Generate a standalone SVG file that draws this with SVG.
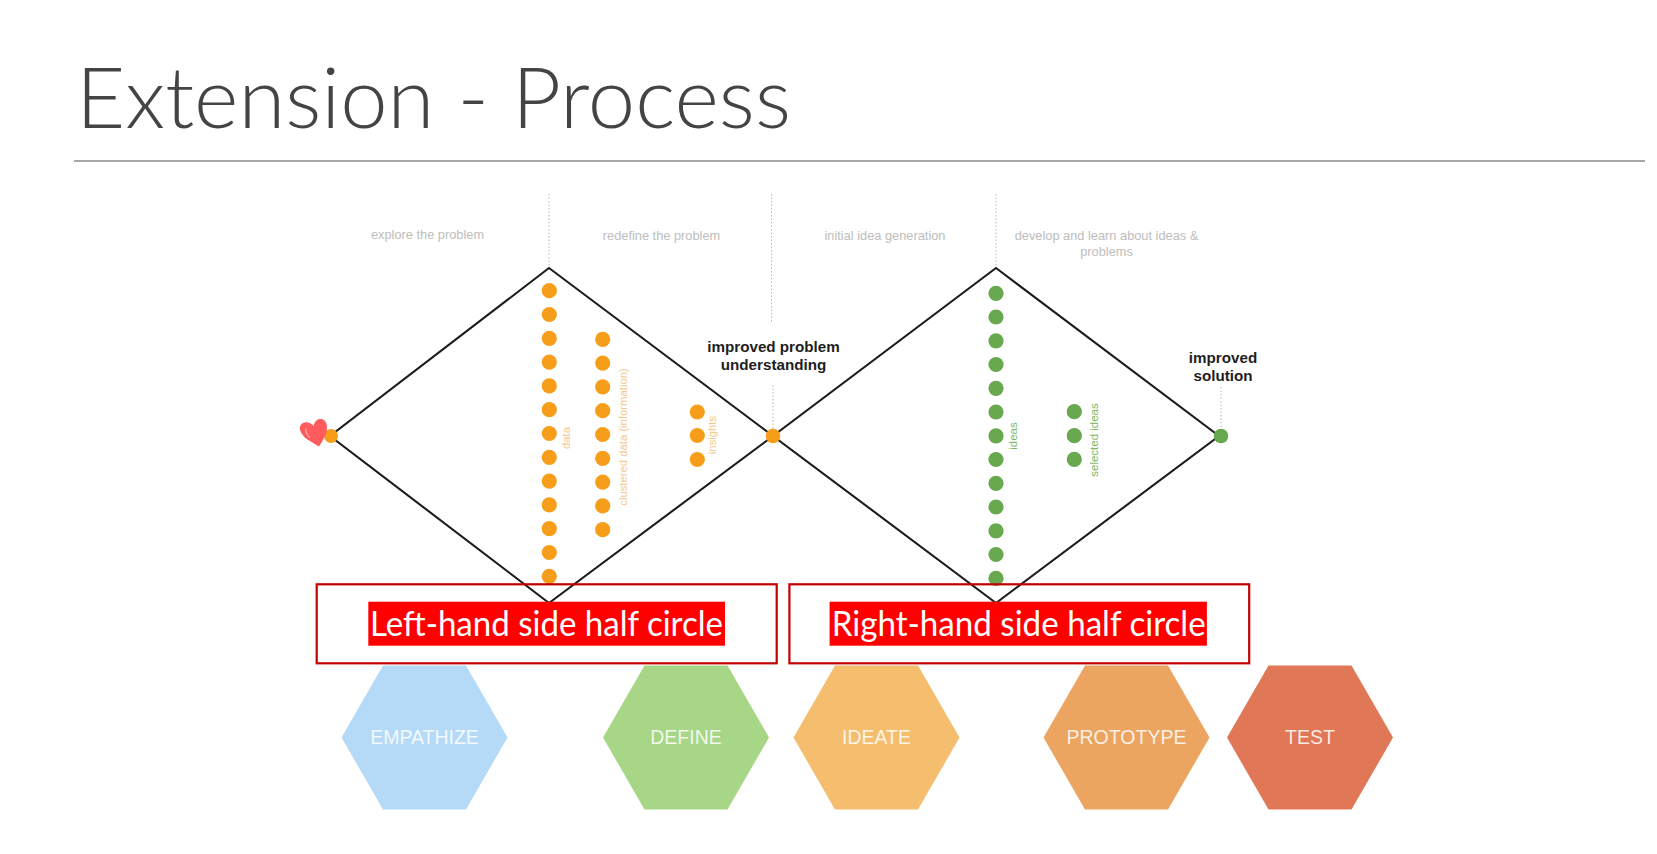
<svg xmlns="http://www.w3.org/2000/svg" width="1657" height="854" viewBox="0 0 1657 854">
  <style>
    .title { font-family: Lato, "Open Sans", sans-serif; font-weight: 300; font-size: 84px; fill: #444444; }
    .phase { font-family: "Liberation Sans", Arial, sans-serif; font-size: 12.8px; fill: #bdbdbd; text-anchor: middle; }
    .milestone { font-family: "Liberation Sans", Arial, sans-serif; font-weight: bold; font-size: 15.2px; fill: #1e1e1e; text-anchor: middle; }
    .guide { stroke: #b8b8b8; stroke-width: 1; stroke-dasharray: 1.5 2; fill: none; }
    .diamond { fill: none; stroke: #1c1c1c; stroke-width: 2.1; stroke-linejoin: miter; }
    .dot-o { fill: #f69e1a; }
    .dot-g { fill: #68a84e; }
    .vlabel-o { font-family: "Liberation Sans", Arial, sans-serif; font-size: 11.3px; fill: #f5c88c; text-anchor: middle; }
    .vlabel-g { font-family: "Liberation Sans", Arial, sans-serif; font-size: 11.5px; fill: #7cb866; text-anchor: middle; }
    .frame { fill: none; stroke: #c40000; stroke-width: 2.2; }
    .tag-bg { fill: #ff0000; }
    .tag { font-family: Lato, "Open Sans", sans-serif; font-size: 34px; fill: #ffffff; }
    .hex-text { font-family: "Liberation Sans", Arial, sans-serif; font-size: 19.5px; fill: #ffffff; fill-opacity: 0.85; text-anchor: middle; }
  </style>
  <defs>
    <polygon id="hex" points="-83,0 -41.5,-72 41.5,-72 83,0 41.5,72 -41.5,72"/>
  </defs>

  <rect width="1657" height="854" fill="#ffffff"/>

  <!-- heading -->
  <g id="heading">
    <text class="title" x="76" y="128" textLength="715" lengthAdjust="spacingAndGlyphs">Extension - Process</text>
    <line x1="74" y1="161" x2="1645" y2="161" stroke="#8a8a8a" stroke-width="1.5"/>
  </g>

  <!-- phase captions -->
  <g id="phase-captions">
    <text class="phase" x="427.5" y="239">explore the problem</text>
    <text class="phase" x="661.5" y="240">redefine the problem</text>
    <text class="phase" x="885" y="240">initial idea generation</text>
    <text class="phase" x="1106.5" y="240">develop and learn about ideas &amp;</text>
    <text class="phase" x="1106.5" y="256">problems</text>
  </g>

  <!-- dotted guides -->
  <g id="connectors">
    <line class="guide" x1="549" y1="194" x2="549" y2="266"/>
    <line class="guide" x1="771.5" y1="194" x2="771.5" y2="323"/>
    <line class="guide" x1="773" y1="385" x2="773" y2="430"/>
    <line class="guide" x1="996" y1="194" x2="996" y2="266"/>
    <line class="guide" x1="1221" y1="387" x2="1221" y2="430"/>
  </g>

  <!-- first diamond: problem space -->
  <g id="diamond-problem">
    <polygon class="diamond" points="549,268 773,436 549,603 330,436"/>
    <g class="dot-o">
      <circle cx="549.3" cy="290.7" r="7.6"/>
      <circle cx="549.3" cy="314.5" r="7.6"/>
      <circle cx="549.3" cy="338.3" r="7.6"/>
      <circle cx="549.3" cy="362.1" r="7.6"/>
      <circle cx="549.3" cy="385.9" r="7.6"/>
      <circle cx="549.3" cy="409.7" r="7.6"/>
      <circle cx="549.3" cy="433.5" r="7.6"/>
      <circle cx="549.3" cy="457.3" r="7.6"/>
      <circle cx="549.3" cy="481.1" r="7.6"/>
      <circle cx="549.3" cy="504.9" r="7.6"/>
      <circle cx="549.3" cy="528.7" r="7.6"/>
      <circle cx="549.3" cy="552.5" r="7.6"/>
      <circle cx="549.3" cy="576.3" r="7.6"/>

      <circle cx="602.7" cy="339.3" r="7.6"/>
      <circle cx="602.7" cy="363.1" r="7.6"/>
      <circle cx="602.7" cy="386.9" r="7.6"/>
      <circle cx="602.7" cy="410.7" r="7.6"/>
      <circle cx="602.7" cy="434.5" r="7.6"/>
      <circle cx="602.7" cy="458.3" r="7.6"/>
      <circle cx="602.7" cy="482.1" r="7.6"/>
      <circle cx="602.7" cy="505.9" r="7.6"/>
      <circle cx="602.7" cy="529.7" r="7.6"/>

      <circle cx="697.3" cy="412" r="7.6"/>
      <circle cx="697.3" cy="435.5" r="7.6"/>
      <circle cx="697.3" cy="459.5" r="7.6"/>

      <circle cx="331" cy="436" r="7"/>
    </g>
    <text class="vlabel-o" transform="translate(569.5,438) rotate(-90)">data</text>
    <text class="vlabel-o" transform="translate(626.5,437) rotate(-90)">clustered data (information)</text>
    <text class="vlabel-o" transform="translate(716,435) rotate(-90)">insights</text>
  </g>

  <!-- second diamond: solution space -->
  <g id="diamond-solution">
    <polygon class="diamond" points="996,268 1219,436 996,603 773,436"/>
    <g class="dot-g">
      <circle cx="996" cy="293.3" r="7.6"/>
      <circle cx="996" cy="317" r="7.6"/>
      <circle cx="996" cy="340.8" r="7.6"/>
      <circle cx="996" cy="364.5" r="7.6"/>
      <circle cx="996" cy="388.3" r="7.6"/>
      <circle cx="996" cy="412" r="7.6"/>
      <circle cx="996" cy="435.8" r="7.6"/>
      <circle cx="996" cy="459.5" r="7.6"/>
      <circle cx="996" cy="483.3" r="7.6"/>
      <circle cx="996" cy="507" r="7.6"/>
      <circle cx="996" cy="530.8" r="7.6"/>
      <circle cx="996" cy="554.5" r="7.6"/>
      <circle cx="996" cy="578.3" r="7.6"/>

      <circle cx="1074.3" cy="411.7" r="7.6"/>
      <circle cx="1074.3" cy="435.7" r="7.6"/>
      <circle cx="1074.3" cy="459.3" r="7.6"/>

      <circle cx="1221" cy="436" r="7.3"/>
    </g>
    <text class="vlabel-g" transform="translate(1017,436) rotate(-90)">ideas</text>
    <text class="vlabel-g" transform="translate(1098,440) rotate(-90)">selected ideas</text>
  </g>

  <!-- shared point where the two diamonds meet -->
  <g id="junction">
    <circle class="dot-o" cx="773" cy="436" r="7.3"/>
  </g>

  <!-- milestones -->
  <g id="milestone-problem">
    <text class="milestone" x="773.5" y="351.5">improved problem</text>
    <text class="milestone" x="773.5" y="369.5">understanding</text>
  </g>
  <g id="milestone-solution">
    <text class="milestone" x="1223" y="363">improved</text>
    <text class="milestone" x="1223" y="381">solution</text>
  </g>

  <!-- hand-drawn heart at the starting point -->
  <g id="heart-mark">
    <path transform="translate(315,433) rotate(-12)" fill="#ff5a5c"
          d="M1,14 C-4,9 -14,2 -14,-6 C-14,-13 -6,-15 -1,-9 L0,-7 C2,-12 6,-14 10,-12 C14,-10 14,-3 11,2 C8,7 4,11 1,14 Z"/>
    <path transform="translate(315,433) rotate(-12)" fill="none" stroke="#ffa3a3" stroke-width="1.4" stroke-linecap="round"
          d="M-8,-6 C-9,-2 -8,1 -6,3"/>
  </g>

  <!-- highlighted captions -->
  <g id="caption-left">
    <rect class="frame" x="316.7" y="584.3" width="460" height="79"/>
    <rect class="tag-bg" x="368.3" y="601.7" width="356.7" height="44"/>
    <text class="tag" x="370" y="636" textLength="353" lengthAdjust="spacingAndGlyphs">Left-hand side half circle</text>
  </g>
  <g id="caption-right">
    <rect class="frame" x="789.4" y="584.3" width="459.8" height="79"/>
    <rect class="tag-bg" x="829.6" y="601.7" width="377.3" height="44"/>
    <text class="tag" x="831.7" y="636" textLength="374" lengthAdjust="spacingAndGlyphs">Right-hand side half circle</text>
  </g>

  <!-- design thinking stages -->
  <g id="stage-empathize">
    <use href="#hex" x="424.5" y="737.5" fill="#b4daf8"/>
    <text class="hex-text" x="424.5" y="744">EMPATHIZE</text>
  </g>
  <g id="stage-define">
    <use href="#hex" x="686" y="737.5" fill="#a7d686"/>
    <text class="hex-text" x="686" y="744">DEFINE</text>
  </g>
  <g id="stage-ideate">
    <use href="#hex" x="876.5" y="737.5" fill="#f4be6e"/>
    <text class="hex-text" x="876.5" y="744">IDEATE</text>
  </g>
  <g id="stage-prototype">
    <use href="#hex" x="1126.5" y="737.5" fill="#eba560"/>
    <text class="hex-text" x="1126.5" y="744">PROTOTYPE</text>
  </g>
  <g id="stage-test">
    <use href="#hex" x="1310" y="737.5" fill="#e07858"/>
    <text class="hex-text" x="1310" y="744">TEST</text>
  </g>
</svg>
